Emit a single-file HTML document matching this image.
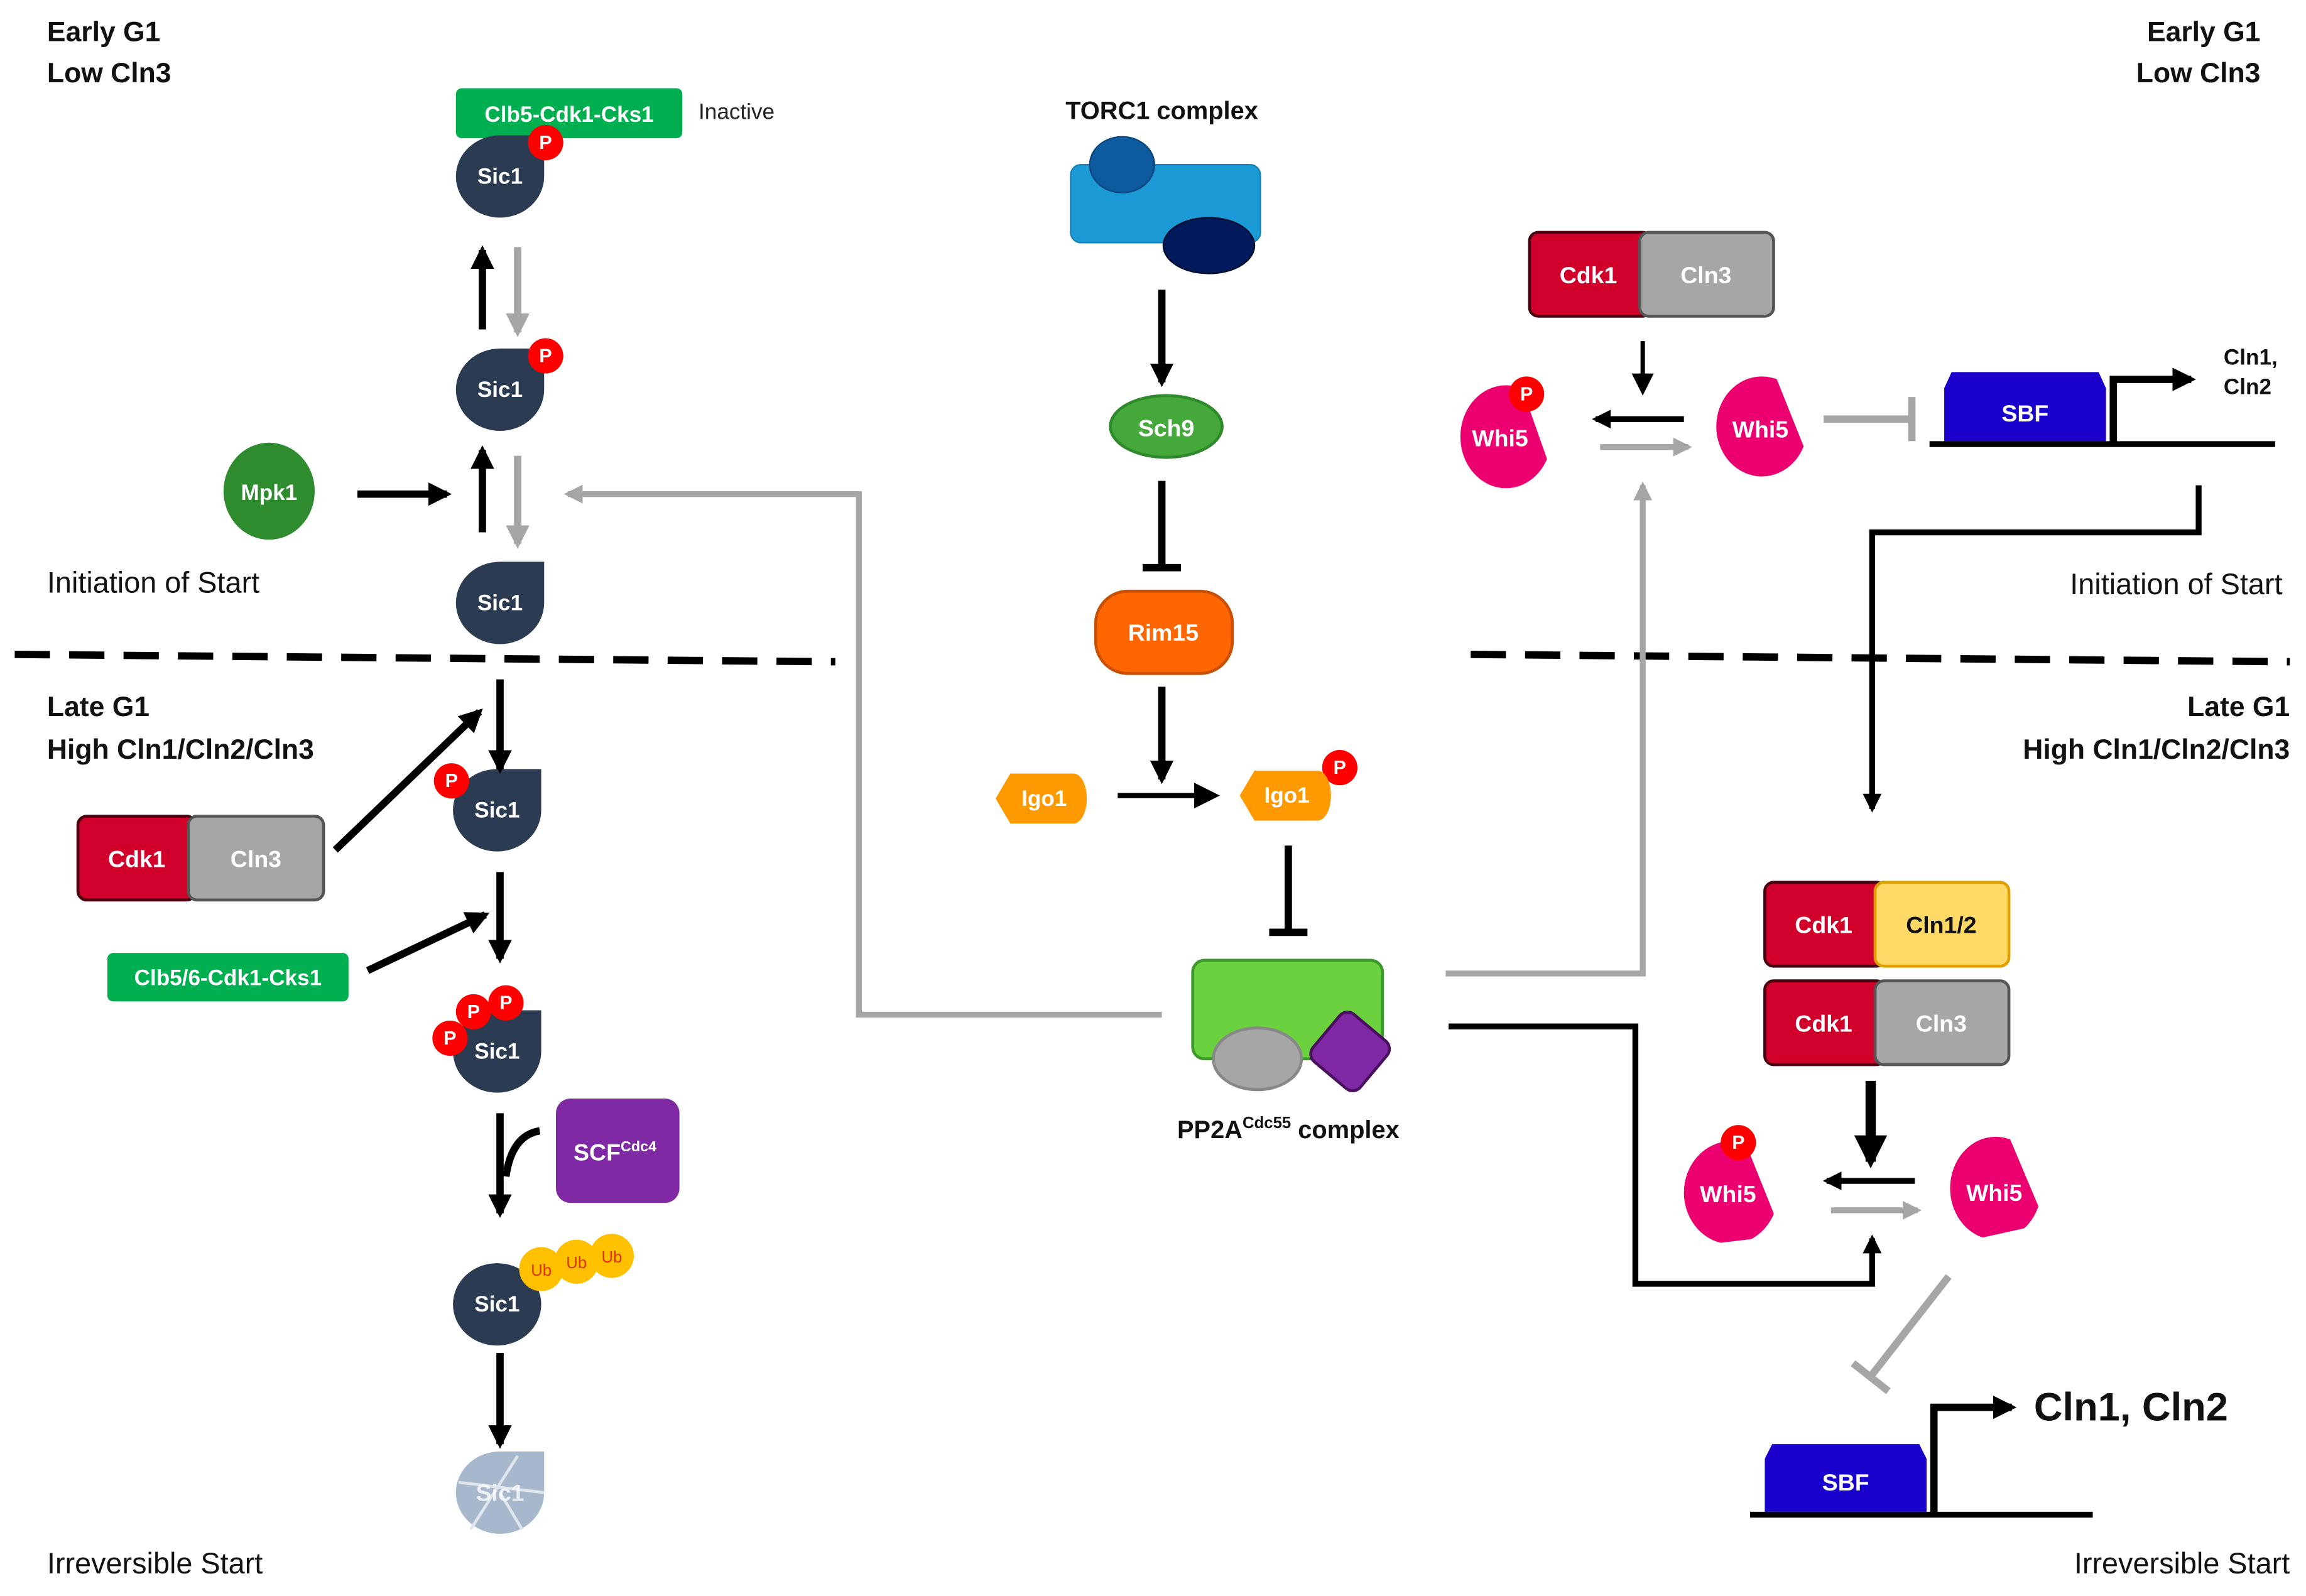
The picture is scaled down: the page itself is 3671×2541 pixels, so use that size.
<!DOCTYPE html>
<html><head><meta charset="utf-8"><style>
html,body{margin:0;padding:0;background:#fff}
svg{display:block}
text{font-family:"Liberation Sans",sans-serif}
.w{fill:#fff;font-weight:bold;text-anchor:middle;dominant-baseline:central}
.lb{font-weight:bold;font-size:19px;fill:#111}
.ln{font-size:20px;fill:#111}
</style></head><body>
<svg width="3671" height="2541" viewBox="0 0 1568 1085.3" preserveAspectRatio="none" xmlns="http://www.w3.org/2000/svg">
<defs>
<marker id="ab" viewBox="0 0 10 10" refX="8" refY="5" markerWidth="3.2" markerHeight="3.2" orient="auto"><path d="M0,0L10,5L0,10Z" fill="#000"/></marker>
<marker id="ag" viewBox="0 0 10 10" refX="8" refY="5" markerWidth="3.2" markerHeight="3.2" orient="auto"><path d="M0,0L10,5L0,10Z" fill="#a6a6a6"/></marker>
<marker id="abs" viewBox="0 0 10 10" refX="8" refY="5" markerWidth="5" markerHeight="5" orient="auto"><path d="M0,0L10,5L0,10Z" fill="#000"/></marker>
<clipPath id="w1"><polygon points="980,250 1030,250 1060,335 980,335"/></clipPath>
<clipPath id="w2"><polygon points="1150,250 1205,250 1233,320 1150,330"/></clipPath>
<clipPath id="w3"><polygon points="1130,770 1184,770 1212,840 1130,850"/></clipPath>
<clipPath id="w4"><polygon points="1310,768 1364,768 1391,832 1310,850"/></clipPath>
</defs>

<!-- corner labels -->
<text class="lb" x="32" y="28">Early G1</text>
<text class="lb" x="32" y="56">Low Cln3</text>
<text class="lb" x="1537" y="28" text-anchor="end">Early G1</text>
<text class="lb" x="1537" y="56" text-anchor="end">Low Cln3</text>
<text class="ln" x="32" y="403">Initiation of Start</text>
<text class="ln" x="1552" y="404" text-anchor="end">Initiation of Start</text>
<text class="lb" x="32" y="487">Late G1</text>
<text class="lb" x="32" y="516">High Cln1/Cln2/Cln3</text>
<text class="lb" x="1557" y="487" text-anchor="end">Late G1</text>
<text class="lb" x="1557" y="516" text-anchor="end">High Cln1/Cln2/Cln3</text>
<text class="ln" x="32" y="1070">Irreversible Start</text>
<text class="ln" x="1557" y="1070" text-anchor="end">Irreversible Start</text>

<!-- dashed -->
<line x1="10" y1="445" x2="568" y2="450" stroke="#000" stroke-width="5" stroke-dasharray="24,13"/>
<line x1="1000" y1="445" x2="1557" y2="450" stroke="#000" stroke-width="5" stroke-dasharray="24,13"/>

<!-- LEFT column -->
<rect x="310" y="60" width="154" height="34" rx="4" fill="#00b050"/>
<text class="w" x="387" y="78" font-size="15">Clb5-Cdk1-Cks1</text>
<text x="475" y="81" font-size="15" fill="#222">Inactive</text>

<g fill="#2b3b52">
<path d="M310,120 A30,28 0 0 0 340,148 A30,28 0 0 0 370,120 L370,92 L340,92 A30,28 0 0 0 310,120Z"/>
<path d="M310,265 A30,28 0 0 0 340,293 A30,28 0 0 0 370,265 L370,237 L340,237 A30,28 0 0 0 310,265Z"/>
<path d="M310,410 A30,28 0 0 0 340,438 A30,28 0 0 0 370,410 L370,382 L340,382 A30,28 0 0 0 310,410Z"/>
<path d="M308,551 A30,28 0 0 0 338,579 A30,28 0 0 0 368,551 L368,523 L338,523 A30,28 0 0 0 308,551Z"/>
<path d="M308,715 A30,28 0 0 0 338,743 A30,28 0 0 0 368,715 L368,687 L338,687 A30,28 0 0 0 308,715Z"/>
<ellipse cx="338" cy="887" rx="30" ry="28"/>
</g>
<path d="M310,1015 A30,28 0 0 0 340,1043 A30,28 0 0 0 370,1015 L370,987 L340,987 A30,28 0 0 0 310,1015Z" fill="#a8b8cc"/>
<g stroke="#dfe6ee" stroke-width="2"><line x1="320" y1="1040" x2="352" y2="990"/><line x1="312" y1="1008" x2="370" y2="1015"/><line x1="340" y1="1015" x2="355" y2="1040"/></g>
<text class="w" x="340" y="120" font-size="15">Sic1</text>
<text class="w" x="340" y="265" font-size="15">Sic1</text>
<text class="w" x="340" y="410" font-size="15">Sic1</text>
<text class="w" x="338" y="551" font-size="15">Sic1</text>
<text class="w" x="338" y="715" font-size="15">Sic1</text>
<text class="w" x="338" y="887" font-size="15">Sic1</text>
<text class="w" x="340" y="1015" font-size="16" fill="#e8eef4" opacity="0.8">Sic1</text>

<!-- Whi5 shapes (drawn before P circles) -->
<ellipse cx="1024" cy="297" rx="31" ry="35" fill="#ec0070" clip-path="url(#w1)"/>
<text class="w" x="1020" y="298" font-size="16">Whi5</text>
<ellipse cx="1198" cy="290" rx="31" ry="34" fill="#ec0070" clip-path="url(#w2)"/>
<text class="w" x="1197" y="292" font-size="16">Whi5</text>
<ellipse cx="1177" cy="811" rx="32" ry="35" fill="#ec0070" clip-path="url(#w3)"/>
<text class="w" x="1175" y="812" font-size="16">Whi5</text>
<ellipse cx="1357" cy="808" rx="31" ry="35" fill="#ec0070" clip-path="url(#w4)"/>
<text class="w" x="1356" y="811" font-size="16">Whi5</text>

<g fill="#f00">
<circle cx="371" cy="97" r="12"/><circle cx="371" cy="242" r="12"/><circle cx="307" cy="531" r="12"/>
<circle cx="306" cy="706" r="12"/><circle cx="322" cy="688" r="12"/><circle cx="344" cy="682" r="12"/>
<circle cx="1038" cy="268" r="12"/><circle cx="1182" cy="777" r="12"/><circle cx="911" cy="522" r="12"/>
</g>
<g font-size="13">
<text class="w" x="371" y="97">P</text><text class="w" x="371" y="242">P</text><text class="w" x="307" y="531">P</text>
<text class="w" x="306" y="706">P</text><text class="w" x="322" y="688">P</text><text class="w" x="344" y="682">P</text>
<text class="w" x="1038" y="268">P</text><text class="w" x="1182" y="777">P</text><text class="w" x="911" y="522">P</text>
</g>

<!-- left arrows -->
<g stroke-width="5" fill="none">
<line x1="328" y1="224" x2="328" y2="170" stroke="#000" marker-end="url(#ab)"/>
<line x1="352" y1="168" x2="352" y2="226" stroke="#a6a6a6" marker-end="url(#ag)"/>
<line x1="328" y1="362" x2="328" y2="306" stroke="#000" marker-end="url(#ab)"/>
<line x1="352" y1="310" x2="352" y2="370" stroke="#a6a6a6" marker-end="url(#ag)"/>
<line x1="243" y1="336" x2="304" y2="336" stroke="#000" marker-end="url(#ab)"/>
<line x1="340" y1="462" x2="340" y2="523" stroke="#000" marker-end="url(#ab)"/>
<line x1="228" y1="578" x2="326" y2="484" stroke="#000" marker-end="url(#ab)"/>
<line x1="340" y1="593" x2="340" y2="652" stroke="#000" marker-end="url(#ab)"/>
<line x1="250" y1="660" x2="330" y2="622" stroke="#000" marker-end="url(#ab)"/>
<line x1="340" y1="757" x2="340" y2="825" stroke="#000" marker-end="url(#ab)"/>
<path d="M367,769 Q348,772 344,800" stroke="#000"/>
<line x1="340" y1="920" x2="340" y2="982" stroke="#000" marker-end="url(#ab)"/>
<polyline points="790,690 584,690 584,336 386,336" stroke="#a6a6a6" stroke-width="4" marker-end="url(#ag)"/>
</g>

<ellipse cx="183" cy="334" rx="31" ry="33" fill="#2e8b2e"/>
<text class="w" x="183" y="335" font-size="15">Mpk1</text>

<rect x="53" y="555" width="80" height="57" rx="6" fill="#d0002a" stroke="#4a0010" stroke-width="2"/>
<rect x="128" y="555" width="92" height="57" rx="6" fill="#a6a6a6" stroke="#555" stroke-width="2"/>
<text class="w" x="93" y="584" font-size="16">Cdk1</text>
<text class="w" x="174" y="584" font-size="16">Cln3</text>

<rect x="73" y="648" width="164" height="33" rx="4" fill="#00b050"/>
<text class="w" x="155" y="665" font-size="15">Clb5/6-Cdk1-Cks1</text>

<rect x="378" y="747" width="84" height="71" rx="10" fill="#7f2aa4"/>
<text x="390" y="789" font-size="16" font-weight="bold" fill="#fff">SCF<tspan font-size="10" dy="-6">Cdc4</tspan></text>

<g fill="#ffc000"><circle cx="368" cy="863" r="15"/><circle cx="392" cy="858" r="15"/><circle cx="416" cy="854" r="15"/></g>
<g font-size="11" fill="#e03000" text-anchor="middle" dominant-baseline="central"><text x="368" y="864">Ub</text><text x="392" y="859">Ub</text><text x="416" y="855">Ub</text></g>

<!-- CENTER -->
<text x="790" y="81" font-size="17" font-weight="bold" text-anchor="middle" fill="#111">TORC1 complex</text>
<rect x="728" y="112" width="129" height="53" rx="7" fill="#1c9ad6" stroke="#1680b8"/>
<ellipse cx="763" cy="112" rx="22" ry="19" fill="#0d5b9e" stroke="#0a4680"/>
<ellipse cx="822" cy="167" rx="31" ry="19" fill="#001a5c" stroke="#000e30"/>
<g stroke="#000" stroke-width="5" fill="none">
<line x1="790" y1="197" x2="790" y2="260" marker-end="url(#ab)"/>
<line x1="790" y1="327" x2="790" y2="386"/><line x1="777" y1="386" x2="803" y2="386"/>
<line x1="790" y1="467" x2="790" y2="530" marker-end="url(#ab)"/>
<line x1="760" y1="541" x2="826" y2="541" stroke-width="3.5" marker-end="url(#abs)"/>
<line x1="876" y1="575" x2="876" y2="634"/><line x1="863" y1="634" x2="889" y2="634"/>
</g>
<ellipse cx="793" cy="290" rx="38" ry="21" fill="#45a83a" stroke="#2e8a2a" stroke-width="2"/>
<text class="w" x="793" y="291" font-size="16">Sch9</text>
<rect x="745" y="402" width="93" height="56" rx="22" fill="#ff6600" stroke="#c85000" stroke-width="2"/>
<text class="w" x="791" y="430" font-size="16">Rim15</text>
<path d="M677,543 L687,526 L730,526 A9,17 0 0 1 730,560 L687,560Z" fill="#ff9900"/>
<text class="w" x="710" y="543" font-size="15">Igo1</text>
<path d="M843,541 L853,524 L896,524 A9,17 0 0 1 896,558 L853,558Z" fill="#ff9900"/>
<text class="w" x="875" y="541" font-size="15">Igo1</text>

<rect x="811" y="653" width="129" height="67" rx="8" fill="#6cd13e" stroke="#3a9a2a" stroke-width="2"/>
<ellipse cx="855" cy="720" rx="30" ry="21" fill="#a6a6a6" stroke="#888" stroke-width="2"/>
<rect x="897" y="694" width="42" height="42" rx="7" fill="#7f2aa4" stroke="#4a1060" stroke-width="2" transform="rotate(40 918 715)"/>
<text x="876" y="774" font-size="17" font-weight="bold" text-anchor="middle" fill="#111">PP2A<tspan font-size="11" dy="-7">Cdc55</tspan><tspan dy="7"> complex</tspan></text>

<g fill="none">
<polyline points="983,662 1117,662 1117,330" stroke="#a6a6a6" stroke-width="4" marker-end="url(#ag)"/>
<polyline points="985,698 1112,698 1112,873 1273,873 1273,842" stroke="#000" stroke-width="4" marker-end="url(#ab)"/>
<polyline points="1495,330 1495,362 1273,362 1273,550" stroke="#000" stroke-width="4" marker-end="url(#ab)"/>
</g>

<!-- RIGHT TOP -->
<rect x="1040" y="158" width="83" height="57" rx="6" fill="#d0002a" stroke="#4a0010" stroke-width="2"/>
<rect x="1115" y="158" width="91" height="57" rx="6" fill="#a6a6a6" stroke="#555" stroke-width="2"/>
<text class="w" x="1080" y="187" font-size="16">Cdk1</text>
<text class="w" x="1160" y="187" font-size="16">Cln3</text>
<g stroke-width="4" fill="none">
<line x1="1117" y1="232" x2="1117" y2="266" stroke="#000" stroke-width="3" marker-end="url(#abs)"/>
<line x1="1145" y1="285" x2="1085" y2="285" stroke="#000" marker-end="url(#ab)"/>
<line x1="1088" y1="304" x2="1148" y2="304" stroke="#a6a6a6" marker-end="url(#ag)"/>
<line x1="1240" y1="285" x2="1300" y2="285" stroke="#a6a6a6" stroke-width="5"/>
<line x1="1300" y1="270" x2="1300" y2="300" stroke="#a6a6a6" stroke-width="5"/>
</g>

<path d="M1322,264 L1327,253 L1427,253 L1432,264 L1432,300 L1322,300Z" fill="#1a00cc"/>
<text class="w" x="1377" y="281" font-size="16">SBF</text>
<line x1="1312" y1="302" x2="1547" y2="302" stroke="#000" stroke-width="4"/>
<polyline points="1437,302 1437,258 1490,258" stroke="#000" stroke-width="5" fill="none" marker-end="url(#ab)"/>
<text x="1512" y="248" font-size="15" font-weight="bold" fill="#111">Cln1,</text>
<text x="1512" y="268" font-size="15" font-weight="bold" fill="#111">Cln2</text>

<!-- RIGHT BOTTOM -->
<rect x="1200" y="600" width="82" height="57" rx="6" fill="#d0002a" stroke="#4a0010" stroke-width="2"/>
<rect x="1275" y="600" width="91" height="57" rx="6" fill="#ffd966" stroke="#e0a000" stroke-width="2"/>
<text class="w" x="1240" y="629" font-size="16">Cdk1</text>
<text x="1320" y="629" font-size="16" font-weight="bold" text-anchor="middle" dominant-baseline="central" fill="#111">Cln1/2</text>
<rect x="1200" y="667" width="82" height="57" rx="6" fill="#d0002a" stroke="#4a0010" stroke-width="2"/>
<rect x="1275" y="667" width="91" height="57" rx="6" fill="#a6a6a6" stroke="#555" stroke-width="2"/>
<text class="w" x="1240" y="696" font-size="16">Cdk1</text>
<text class="w" x="1320" y="696" font-size="16">Cln3</text>
<g fill="none" stroke-width="4">
<line x1="1272" y1="735" x2="1272" y2="790" stroke="#000" stroke-width="7" marker-end="url(#ab)"/>
<line x1="1302" y1="803" x2="1242" y2="803" stroke="#000" marker-end="url(#ab)"/>
<line x1="1245" y1="823" x2="1304" y2="823" stroke="#a6a6a6" marker-end="url(#ag)"/>
<line x1="1325" y1="868" x2="1272" y2="936" stroke="#a6a6a6" stroke-width="5"/>
<line x1="1260" y1="927" x2="1284" y2="946" stroke="#a6a6a6" stroke-width="5"/>
</g>

<path d="M1200,992 L1205,982 L1305,982 L1310,992 L1310,1028 L1200,1028Z" fill="#1a00cc"/>
<text class="w" x="1255" y="1008" font-size="16">SBF</text>
<line x1="1190" y1="1030" x2="1423" y2="1030" stroke="#000" stroke-width="4"/>
<polyline points="1315,1030 1315,957 1368,957" stroke="#000" stroke-width="5" fill="none" marker-end="url(#ab)"/>
<text x="1383" y="966" font-size="27" font-weight="bold" fill="#111">Cln1, Cln2</text>
</svg>
</body></html>
